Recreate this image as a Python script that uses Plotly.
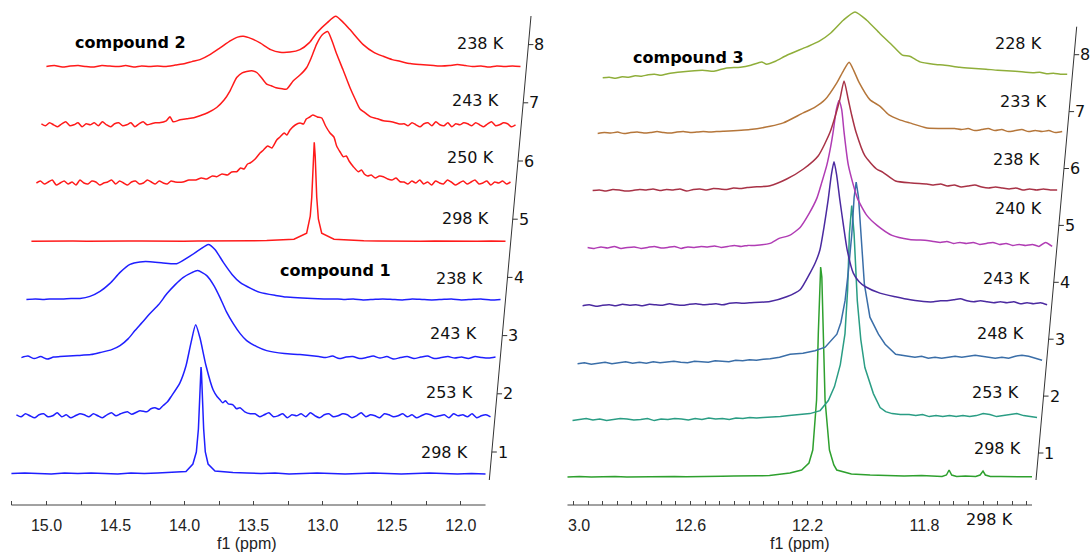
import plotly.graph_objects as go

# ======================= DATA (true ppm, intensity a.u.) =======================
# Each spectrum: peak-region points (ppm descending) + baseline noise read left/right of it.
L_START, L_END = 15.254, 11.821      # spectral window, compounds 1 & 2
R_START, R_END = 13.0205, 11.4325    # spectral window, compound 3

# ---- compound 1, 298 K
c1_298_ppm = [14.10, 14.02, 13.99, 13.94, 13.915, 13.90, 13.89, 13.884, 13.881, 13.878, 13.872, 13.862, 13.85, 13.83, 13.78, 13.72, 13.65]
c1_298_int = [1.5, 2.0, 2.5, 10, 22, 45, 80, 102, 107, 102, 80, 45, 22, 10, 3, 2, 1.5]
c1_298_nl = [0.5, 1.0, 0.5, 0.0, 1.0, 0.5, 1.0, 0.5, 0.0, 1.0, 0.5, 1.0]
c1_298_nr = [1.0, 0.5, 1.0, 0.0, 0.5, 1.0, 0.5, 0.0, 0.5, 1.0, 0.5, 0.0, 0.5, 1.0, 0.5, 0.0, 0.5, 0.0]

# ---- compound 1, 253 K
c1_253_ppm = [14.50, 14.45, 14.42, 14.36, 14.31, 14.28, 14.25, 14.22, 14.193, 14.16, 14.13, 14.07, 14.026, 13.99, 13.956, 13.925, 13.881, 13.83, 13.80, 13.78, 13.76, 13.74, 13.72, 13.686, 13.66, 13.635, 13.60, 13.56]
c1_253_int = [2, 4, 1.5, 5, 4, 7, 8, 6.5, 10, 14, 20, 33, 50, 73, 91, 78, 50, 26, 19, 16, 13, 15, 12, 11, 7, 8, 4, 2]
c1_253_nl = [1, -1, 2, 0, -2, 1, 2, -1, 0, 3, -1, 1, -2, 0, 2, 1, -1, 2, 0, -2, 1, 3, 0]
c1_253_nr = [2, -1, 1, 3, -1, 0, 2, -2, 1, 0, 2, -1, 3, 0, -2, 1, 2, -1, 0, 2, 1, -2, 0, 3, -1, 1,
             0, -2, 2, 1, -1, 0, 2, -1, 1, -2, 0, 2, 1, -1, 0, 1, -2, 2, 0, 1, -1, 2, -2, 0, 1, -1]

# ---- compound 1, 243 K
c1_243_ppm = [14.975, 14.85, 14.75, 14.685, 14.60, 14.54, 14.48, 14.432, 14.38, 14.323, 14.26, 14.2, 14.14, 14.084, 14.02, 13.978, 13.912, 13.86, 13.816, 13.77, 13.72, 13.67, 13.623, 13.55, 13.478, 13.35, 13.237, 13.1]
c1_243_int = [1, 2, 3, 5, 8, 12, 19, 27, 35, 44, 53, 64, 73, 80, 85, 87, 82, 72, 60, 46, 34, 24, 17, 11, 7, 4, 3, 1]
c1_243_nl = [0, 1.5, -1, 1, -1.5, 0.5]
c1_243_nr = [0, 1.5, -1, 0.5, 1, -1, 0, 1.5, -0.5, 1, -1.5, 0, 1, -1, 0.5, 1.5, -1, 0, 1, -0.5, 0.5, -1, 1, 0, -0.5, 0.5]

# ---- compound 1, 238 K
c1_238_ppm = [14.866, 14.794, 14.721, 14.649, 14.576, 14.504, 14.432, 14.359, 14.265, 14.166, 14.07, 13.997, 13.937, 13.889, 13.828, 13.765, 13.707, 13.63, 13.563, 13.45, 13.369, 13.1]
c1_238_int = [1, 3, 8, 16, 27, 35, 37.5, 37.7, 36.5, 35.7, 43.3, 50, 55, 50, 37, 25, 17, 11, 7, 4, 2.3, 0.5]
c1_238_nl = [0, 0.5, 0, 0.5, 0.5, 1]
c1_238_nr = [0.5, 0, 0.5, -0.5, 0, 0.5, 0, -0.5, 0.5, 0, -0.5, 0, 0.5, -0.5, 0, 0.5, -0.5, 0]

# ---- compound 2, 298 K
c2_298_ppm = [13.45, 13.353, 13.261, 13.235, 13.224, 13.213, 13.206, 13.199, 13.188, 13.176, 13.152, 13.063, 12.95]
c2_298_int = [1, 2, 8, 25, 44, 85, 99, 85, 44, 22, 8, 2, 1]
c2_298_nl = [0, 0.3, 0, 0.2, 0, 0.3, 0, 0.2, 0.3, 0, 0.2, 0, 0.3, 0.2, 0, 0.3, 0.5, 0.7]
c2_298_nr = [0.5, 0.3, 0, 0.2, 0, 0.3, 0, 0.2, 0, 0.2, 0]

# ---- compound 2, 250 K
c2_250_ppm = [14.25, 14.193, 14.15, 14.1, 14.06, 14.02, 13.98, 13.949, 13.91, 13.87, 13.84, 13.804, 13.775, 13.75, 13.725, 13.707, 13.67, 13.635, 13.61, 13.58, 13.55, 13.514, 13.49, 13.46, 13.44, 13.418, 13.38, 13.345, 13.32, 13.30, 13.275, 13.253, 13.22, 13.188, 13.16, 13.128, 13.10, 13.08, 13.055, 13.032, 13.01, 12.99, 12.959, 12.923, 12.90, 12.88, 12.855, 12.83, 12.80, 12.77, 12.742, 12.71, 12.68, 12.65, 12.621]
c2_250_int = [1, 1, 3, 3, 5, 4, 7, 6.3, 9, 8, 11, 11.3, 15, 14, 19, 20, 24, 30, 33, 37, 35, 43, 46, 50, 48, 53, 58, 60, 59, 64, 66, 68, 66, 65, 57, 50, 46, 37, 31, 26.3, 27, 22, 16.3, 11.3, 13, 9, 7, 8, 5, 7, 6.3, 4, 3, 5, 1.3]
c2_250_nl = [0, 2, -1, 1, 3, -2, 0, 2, -1, 1, -2, 3, 0, -1, 2, 1, -2, 0, 1, 3, -1, 2, 0, -2, 1, 2, -1, 0, 3, 1, -1, 2, 0, -1, 2]
c2_250_nr = [1, -1, 2, 0, 3, -1, 1, -2, 2, 0, -1, 3, 1, -2, 0, 2, -1, 1, 3, -1, 0, 2, -2, 1, 0, 2, -1, 1]

# ---- compound 2, 243 K
c2_243_ppm = [14.40, 14.35, 14.323, 14.30, 14.25, 14.2, 14.15, 14.106, 14.05, 13.985, 13.93, 13.888, 13.84, 13.80, 13.768, 13.73, 13.695, 13.66, 13.623, 13.59, 13.555, 13.51, 13.478, 13.43, 13.38, 13.333, 13.30, 13.261, 13.22, 13.181, 13.15, 13.116, 13.07, 13.02, 12.98, 12.947, 12.91, 12.87, 12.82, 12.778, 12.72, 12.657]
c2_243_int = [2, 4, 8, 3, 5, 6, 7, 9, 12, 17.3, 25, 34, 47.3, 52, 53.3, 54, 52.3, 47, 40.7, 39, 37, 36, 35.7, 44, 50, 57.3, 67, 80.7, 90, 93.3, 84, 70.7, 55, 37.3, 25, 15.7, 12, 8, 6, 4, 3, 0.7]
c2_243_nl = [1, -1, 2, 0, -2, 1, 3, -1, 0, 2, -2, 1, 0, 2, -1, 3, 0, -2, 1, 2, -1, 0, 2, -2, 1, 3, 0, 1, 2]
c2_243_nr = [1, -1, 2, 0, -2, 1, 2, -1, 3, 0, -1, 2, -2, 1, 0, 2, 1, -1, 2, 0, -2, 1, 3, -1, 0, 2, 1, -2, 0]

# ---- compound 2, 238 K
c2_238_ppm = [14.45, 14.395, 14.32, 14.25, 14.2, 14.142, 14.07, 13.997, 13.92, 13.87, 13.828, 13.77, 13.707, 13.63, 13.563, 13.49, 13.418, 13.35, 13.297, 13.22, 13.159, 13.11, 13.056, 12.96, 12.88, 12.815, 12.75, 12.694, 12.62, 12.549, 12.45]
c2_238_int = [0.5, 0, 1.5, 3, 5, 7, 12, 18.7, 26, 29.5, 30.3, 28, 23.7, 17, 14.3, 14.5, 17, 24, 33.7, 44, 50.3, 45, 37, 22, 14, 10.3, 7, 5.3, 3, 2, 1]
c2_238_nl = [0, 1, -0.5, 0.5, 1, 0, -0.5, 1, 0.5, 0, 1, -0.5, 0.5, 0]
c2_238_nr = [0.5, 1, 2, 1, 0, 0.5, -0.5, 0.5, 0, 0.5, 0]

# ---- compound 3, 298 K
c3_298_ppm = [12.33, 12.26, 12.22, 12.195, 12.182, 12.169, 12.163, 12.158, 12.155, 12.151, 12.146, 12.140, 12.125, 12.11, 12.10, 12.05, 11.986, 11.93, 11.87, 11.81, 11.77, 11.74, 11.725, 11.716, 11.707, 11.69, 11.66, 11.625, 11.61, 11.60, 11.592, 11.575]
c3_298_int = [1.5, 4, 7, 14, 27, 77, 144, 200, 210, 200, 144, 77, 27, 12, 7, 3, 2, 1.5, 1, 1.5, 1, 0.5, 2, 7, 2, 0.5, 1, 0.5, 2, 6, 2, 0.5]
c3_298_nl = [0, 0.5, 0, 0.3, 0.5, 0, 0.3, 0.5, 0.2, 0.5, 0.3, 0.7, 0.5, 0.8, 1, 0.8, 1.2]
c3_298_nr = [0.5, 0.3, 0.5, 0.2]

# ---- compound 3, 253 K
c3_253_ppm = [12.345, 12.31, 12.28, 12.24, 12.209, 12.174, 12.146, 12.125, 12.105, 12.089, 12.08, 12.074, 12.066, 12.058, 12.047, 12.035, 12.021, 11.992, 11.969, 11.95, 11.928, 11.90, 11.87]
c3_253_int = [2.3, 3, 4, 5, 6, 9, 19, 33, 55, 86, 130, 186, 214, 186, 119, 80, 52, 26, 12, 8, 6, 5, 5]
c3_253_nl = [-1, 0, 1, -0.5, 0.5, -1, 0, 1, 0.5, -0.5, 0, 1, -1, 0.5, 0, 1, 0.5, -0.5, 1, 0, 1.5, 0.5, 1, 0, 1.5, 1, 2, 1.5, 2]
c3_253_nr = [4, 5, 3, 4, 3, 4, 3, 4, 3, 4, 6, 5, 3, 4, 5, 6, 4, 3, 2]

# ---- compound 3, 248 K
c3_248_ppm = [12.362, 12.33, 12.294, 12.25, 12.209, 12.174, 12.134, 12.12, 12.106, 12.095, 12.083, 12.075, 12.068, 12.06, 12.052, 12.04, 12.021, 11.992, 11.969, 11.933, 11.89]
c3_248_int = [3.5, 5, 8, 9, 11.5, 15, 28, 40, 61.5, 90, 128, 165, 180, 165, 128, 78, 45, 28, 18, 8, 6]
c3_248_nl = [-1.5, -0.5, -2, -1, 0, -1.5, -0.5, 0.5, -1, 0, -1, 0.5, -0.5, 0, 1, 0, -0.5, 1, 0.5, 0, 1.5, 1, 0.5, 2, 1.5, 2.5, 2, 3]
c3_248_nr = [5, 6, 4, 5, 4, 5, 6, 5, 6, 7, 6, 5, 4, 5, 4, 6, 7, 6, 4, 2]

# ---- compound 3, 243 K
c3_243_ppm = [12.45, 12.38, 12.323, 12.277, 12.243, 12.225, 12.209, 12.195, 12.181, 12.17, 12.161, 12.152, 12.141, 12.128, 12.116, 12.095, 12.075, 12.055, 12.004, 11.951, 11.90, 11.843]
c3_243_int = [2, 3.3, 8, 15, 31.7, 42, 55, 78, 105, 130, 143, 130, 105, 78, 55, 31.7, 23, 18.3, 11.7, 8, 5, 3]
c3_243_nl = [-1, 0, -1.5, -0.5, 0, -1, 0.5, -0.5, 0, -1, 0.5, 0, -0.5, 1, 0, -0.5, 0.5, 1, 0, 0.5, 1, 0, 1.5, 2, 1.5]
c3_243_nr = [3, 4, 4, 5, 6, 4, 3, 4, 3, 2, 3, 2, 3, 1, 2, 1, 2, 0]

# ---- compound 3, 240 K
c3_240_ppm = [12.45, 12.397, 12.366, 12.33, 12.294, 12.265, 12.237, 12.22, 12.203, 12.19, 12.181, 12.17, 12.161, 12.152, 12.144, 12.129, 12.098, 12.066, 12.031, 11.98, 11.92, 11.86]
c3_240_int = [2, 4, 9, 12, 20, 33, 49, 65, 82, 100, 115.7, 138, 147, 138, 115.7, 82, 49, 32, 22, 12, 8, 7]
c3_240_nl = [0, -1, 0.5, -0.5, 1, -1, 0, 0.5, -1, 0, 1, -0.5, 0, 1, -1, 0.5, 0, 1, 0.5, 1.5, 0, 1, 2, 1, 2]
c3_240_nr = [6, 5, 6, 4, 5, 4, 5, 3, 4, 5, 3, 4, 2, 3, 2, 3, 1, 5, 1]

# ---- compound 3, 238 K
c3_238_ppm = [12.47, 12.414, 12.357, 12.3, 12.249, 12.209, 12.19, 12.175, 12.161, 12.147, 12.135, 12.12, 12.09, 12.05, 12.028, 11.985, 11.93, 11.878]
c3_238_int = [3, 4.3, 11, 21, 34.3, 57.7, 75, 91, 109, 91, 75, 57.7, 34.3, 21, 17.7, 9, 7, 6]
c3_238_nl = [-0.5, 0, -1, 0.5, 0, -1, -0.5, 0.5, 0, 1, -0.5, 0.5, 0, 1, -1, 0.5, 1, 0, 1.5, 1, 0.5, 2, 1.5, 2.5]
c3_238_nr = [5, 6, 4, 5, 3, 4, 5, 3, 2, 3, 2, 1, 2, 0, 1, 0, 1, 0, 0]

# ---- compound 3, 233 K
c3_233_ppm = [12.592, 12.50, 12.431, 12.386, 12.318, 12.28, 12.243, 12.203, 12.18, 12.161, 12.145, 12.126, 12.09, 12.055, 12.026, 11.99, 11.954, 11.895, 11.80]
c3_233_int = [1.3, 3, 6.3, 9.7, 19.7, 25, 33, 49.7, 62, 70.3, 62, 49.7, 33, 26.3, 18, 13, 9.7, 4.7, 4]
c3_233_nl = [-1, 0, -0.5, 0.5, -1, 0, 0.5, -0.5, 0, 1, 0, -0.5, 0.5, 1, 0, 0.5, 1, 0.5, 1]
c3_233_nr = [3, 4, 2, 3, 4, 2, 3, 1, 2, 3, 1, 2, 1, 2, 0, 1]

# ---- compound 3, 228 K
c3_228_ppm = [12.754, 12.68, 12.64, 12.60, 12.55, 12.514, 12.477, 12.46, 12.43, 12.391, 12.323, 12.28, 12.243, 12.198, 12.158, 12.118, 12.073, 12.031, 11.996, 11.971, 11.936, 11.89, 11.851, 11.80, 11.76, 11.71, 11.67, 11.61, 11.55]
c3_228_int = [3.3, 5, 4, 7, 8, 10, 13.3, 11, 14, 20, 28.3, 34, 41.7, 55, 63.3, 55, 41.7, 30, 20, 19, 13.3, 11, 10, 8, 7, 6, 5, 4, 2.5]
c3_228_nl = [-2.5, -2, -3, -1.5, -2, -0.5, -1, 0.5, 1, 0, 1.5, 2.5]
c3_228_nr = [3, 1.5, 2, 1, 1]

# labels
left_temps = ["298 K", "253 K", "243 K", "238 K", "298 K", "250 K", "243 K", "238 K"]
right_temps = ["298 K", "253 K", "248 K", "243 K", "240 K", "238 K", "233 K", "228 K"]
stack_numbers = ["1", "2", "3", "4", "5", "6", "7", "8"]
left_ticks = [15.0, 14.5, 14.0, 13.5, 13.0, 12.5, 12.0]
left_ticktext = ["15.0", "14.5", "14.0", "13.5", "13.0", "12.5", "12.0"]
right_ticks = [12.6, 12.2, 11.8]
right_ticktext = ["12.6", "12.2", "11.8"]

# (ppm, intensity, left noise, right noise, colour, smooth?)
left_series = [
    (c1_298_ppm, c1_298_int, c1_298_nl, c1_298_nr, "#1f1fff", False),
    (c1_253_ppm, c1_253_int, c1_253_nl, c1_253_nr, "#1f1fff", True),
    (c1_243_ppm, c1_243_int, c1_243_nl, c1_243_nr, "#1f1fff", True),
    (c1_238_ppm, c1_238_int, c1_238_nl, c1_238_nr, "#1f1fff", True),
    (c2_298_ppm, c2_298_int, c2_298_nl, c2_298_nr, "#ff1a1a", False),
    (c2_250_ppm, c2_250_int, c2_250_nl, c2_250_nr, "#ff1a1a", True),
    (c2_243_ppm, c2_243_int, c2_243_nl, c2_243_nr, "#ff1a1a", True),
    (c2_238_ppm, c2_238_int, c2_238_nl, c2_238_nr, "#ff1a1a", True),
]
right_series = [
    (c3_298_ppm, c3_298_int, c3_298_nl, c3_298_nr, "#2ea02e", False),
    (c3_253_ppm, c3_253_int, c3_253_nl, c3_253_nr, "#2a9d84", False),
    (c3_248_ppm, c3_248_int, c3_248_nl, c3_248_nr, "#3a6ea8", False),
    (c3_243_ppm, c3_243_int, c3_243_nl, c3_243_nr, "#4b2aa0", True),
    (c3_240_ppm, c3_240_int, c3_240_nl, c3_240_nr, "#b03cb4", True),
    (c3_238_ppm, c3_238_int, c3_238_nl, c3_238_nr, "#a83246", True),
    (c3_233_ppm, c3_233_int, c3_233_nl, c3_233_nr, "#b5763a", True),
    (c3_228_ppm, c3_228_int, c3_228_nl, c3_228_nr, "#8fae3a", True),
]

# ======================= LAYOUT CONSTANTS =======================
L_DX, L_DY = 0.0362, 58.2     # stacking offset per spectrum (ppm, a.u.)
R_DX, R_DY = 0.0172, 57.4
W, H = 1092, 552
MB = 47                        # bottom margin -> plot area 505 px tall
PLOT_H = H - MB
L_DOM = [0.0, 545 / W]
R_DOM = [550 / W, 1.0]
L_RANGE = [15.3367, 11.3903]
R_RANGE = [13.0803, 11.2274]

TXT = dict(family="DejaVu Sans, Verdana, sans-serif", size=16, color="#111")
TICKF = dict(family="Liberation Sans, Arial, sans-serif", size=16, color="#222")


def assemble(ppm, inten, nl, nr, start, end):
    hi, lo = ppm[0], ppm[-1]
    xs, ys = [], []
    n = len(nl)
    for i, v in enumerate(nl):
        xs.append(start - (start - hi) * i / n)
        ys.append(v)
    xs += list(ppm)
    ys += list(inten)
    m = len(nr)
    for i, v in enumerate(nr):
        xs.append(lo - (lo - end) * (i + 1) / m)
        ys.append(v)
    return xs, ys


def line_style(col, smooth):
    if smooth:
        return dict(color=col, width=1.5, shape="spline", smoothing=0.6)
    return dict(color=col, width=1.5)


fig = go.Figure()

for k, (p, h, nl, nr, col, sm) in enumerate(left_series):
    xs, ys = assemble(p, h, nl, nr, L_START, L_END)
    fig.add_trace(go.Scatter(x=[v - k * L_DX for v in xs], y=[v + k * L_DY for v in ys],
                             mode="lines", line=line_style(col, sm),
                             xaxis="x", yaxis="y", hoverinfo="skip", showlegend=False))
for k, (p, h, nl, nr, col, sm) in enumerate(right_series):
    xs, ys = assemble(p, h, nl, nr, R_START, R_END)
    fig.add_trace(go.Scatter(x=[v - k * R_DX for v in xs], y=[v + k * R_DY for v in ys],
                             mode="lines", line=line_style(col, sm),
                             xaxis="x2", yaxis="y2", hoverinfo="skip", showlegend=False))

shapes, annos = [], []

# bottom axis lines (only across the spectral window)
shapes.append(dict(type="line", xref="x", yref="paper", x0=L_START, x1=L_END, y0=0, y1=0,
                   line=dict(color="#444", width=1)))
shapes.append(dict(type="line", xref="x2", yref="paper", x0=R_START, x1=R_END, y0=0, y1=0,
                   line=dict(color="#444", width=1)))


# oblique stack axes with numbered ticks
def stack_axis(xref, yref, xb, yb, xt, yt, y0, dy, tick_len, lab_off):
    shapes.append(dict(type="line", xref=xref, yref=yref, x0=xb, y0=yb, x1=xt, y1=yt,
                       line=dict(color="#333", width=1)))
    for k, lab in enumerate(stack_numbers):
        yy = y0 + k * dy
        xx = xb + (xt - xb) * (yy - yb) / (yt - yb)
        shapes.append(dict(type="line", xref=xref, yref=yref, x0=xx, y0=yy, x1=xx - tick_len, y1=yy,
                           line=dict(color="#333", width=1)))
        annos.append(dict(xref=xref, yref=yref, x=xx - lab_off, y=yy, text=lab, showarrow=False,
                          xanchor="center", yanchor="middle", font=TXT))


stack_axis("x", "y", 11.7936, -6, 11.4917, 458, 22, 58.2, 0.0362, 0.0797)
stack_axis("x2", "y2", 11.4188, -3, 11.2797, 450.3, 24, 56.9, 0.0171, 0.0376)

# temperature labels
left_lab_pos = [(12.1216, 22), (12.082, 82), (12.053, 141), (12.009, 196),
                (11.966, 256), (11.933, 317), (11.897, 374), (11.861, 431)]
right_lab_pos = [(11.552, 29), (11.559, 85), (11.540, 144), (11.521, 199),
                 (11.477, 269), (11.486, 318), (11.460, 375.3), (11.477, 433.7)]
for lab, (x, y) in zip(left_temps, left_lab_pos):
    annos.append(dict(xref="x", yref="y", x=x, y=y, text=lab, showarrow=False,
                      xanchor="center", yanchor="middle", font=TXT))
for lab, (x, y) in zip(right_temps, right_lab_pos):
    annos.append(dict(xref="x2", yref="y2", x=x, y=y, text=lab, showarrow=False,
                      xanchor="center", yanchor="middle", font=TXT))

BOLD = dict(family="DejaVu Sans, Verdana, sans-serif", size=16, color="#000")
annos.append(dict(xref="x", yref="y", x=14.3917, y=431.5, text="<b>compound 2</b>", showarrow=False, font=BOLD))
annos.append(dict(xref="x", yref="y", x=12.9109, y=204, text="<b>compound 1</b>", showarrow=False, font=BOLD))
annos.append(dict(xref="x2", yref="y2", x=12.6085, y=420, text="<b>compound 3</b>", showarrow=False, font=BOLD))

# axis titles and extra texts under the axes
TITLEF = dict(family="Liberation Sans, Arial, sans-serif", size=16, color="#222")
annos.append(dict(xref="x", yref="paper", x=13.548, y=(PLOT_H - 553) / PLOT_H, text="f1 (ppm)",
                  showarrow=False, yanchor="bottom", font=TITLEF, borderpad=0))
annos.append(dict(xref="x2", yref="paper", x=12.227, y=(PLOT_H - 553) / PLOT_H, text="f1 (ppm)",
                  showarrow=False, yanchor="bottom", font=TITLEF, borderpad=0))
annos.append(dict(xref="x2", yref="paper", x=12.9812, y=(PLOT_H - 525) / PLOT_H, text="3.0",
                  showarrow=False, yanchor="middle", font=TICKF))
annos.append(dict(xref="x2", yref="paper", x=11.577, y=(PLOT_H - 519) / PLOT_H, text="298 K",
                  showarrow=False, yanchor="middle", font=TXT))

left_minor = [15.25, 14.75, 14.25, 13.75, 13.25, 12.75, 12.25]
right_minor = [round(13.0 - 0.05 * i, 2) for i in range(32)]

fig.update_layout(
    width=W, height=H, margin=dict(l=0, r=0, t=0, b=MB),
    paper_bgcolor="white", plot_bgcolor="white",
    xaxis=dict(domain=L_DOM, range=L_RANGE, tickmode="array", tickvals=left_ticks, ticktext=left_ticktext,
               minor=dict(tickmode="array", tickvals=left_minor, ticks="inside", ticklen=4,
                          tickcolor="#444"),
               showgrid=False, zeroline=False, showline=False, ticks="inside", ticklen=4,
               tickwidth=1, tickcolor="#444", tickfont=TICKF, ticklabelstandoff=9, anchor="y"),
    xaxis2=dict(domain=R_DOM, range=R_RANGE, tickmode="array", tickvals=right_ticks, ticktext=right_ticktext,
                minor=dict(tickmode="array", tickvals=right_minor, ticks="inside", ticklen=4,
                           tickcolor="#444"),
                showgrid=False, zeroline=False, showline=False, ticks="inside", ticklen=4,
                tickwidth=1, tickcolor="#444", tickfont=TICKF, ticklabelstandoff=9, anchor="y2"),
    yaxis=dict(range=[-31, 474], visible=False, domain=[0, 1]),
    yaxis2=dict(range=[-28, 477], visible=False, domain=[0, 1], anchor="x2"),
    shapes=shapes, annotations=annos,
)

fig.write_html("out.html", config={"displayModeBar": False},
               post_script="document.body.style.margin='0px';")
